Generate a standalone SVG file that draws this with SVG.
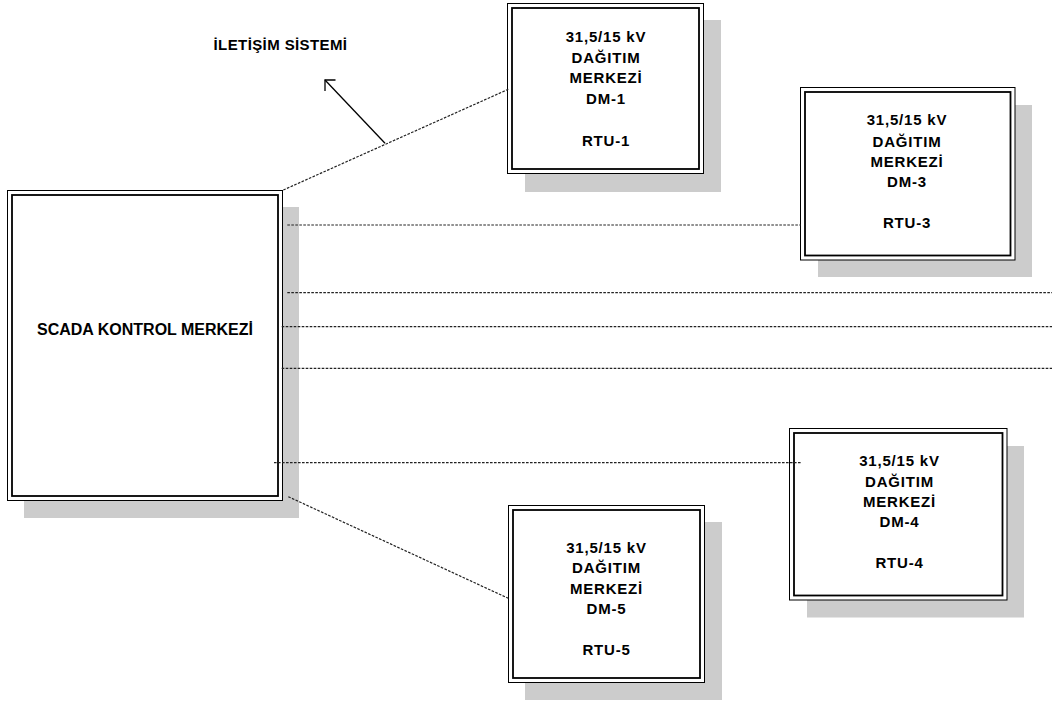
<svg xmlns="http://www.w3.org/2000/svg" width="1052" height="709" viewBox="0 0 1052 709">
<style>
.shadow{fill:#cccccc;stroke:none}
.outer{fill:#ffffff;stroke:#000;stroke-width:1}
.inner{fill:none;stroke:#000;stroke-width:1.8}
.t{font-family:"Liberation Sans",Arial,sans-serif;font-weight:bold;fill:#000;text-anchor:middle}
.dm{font-size:15px;letter-spacing:0.8px}
.dot{fill:none;stroke:#222;stroke-width:1.2;stroke-dasharray:2.6 1.4}
.sol{fill:none;stroke:#000;stroke-width:1.3}
</style>
<rect width="1052" height="709" fill="#ffffff"/>
<g id="scada">
<rect class="shadow" x="24" y="207" width="275" height="311"/>
<rect class="outer" x="7.5" y="190.5" width="275" height="310"/>
<rect class="inner" x="12" y="195" width="266" height="301"/>
<text class="t" x="145" y="335" font-size="16">SCADA KONTROL MERKEZİ</text>
</g>
<g id="dm1">
<rect class="shadow" x="525" y="20" width="196" height="172"/>
<rect class="outer" x="507.5" y="3.5" width="196" height="170"/>
<rect class="inner" x="512" y="8" width="187" height="161"/>
<text class="t dm" x="606" y="41.7">31,5/15 kV</text>
<text class="t dm" x="606" y="62.5">DAĞITIM</text>
<text class="t dm" x="606" y="83.3">MERKEZİ</text>
<text class="t dm" x="606" y="104">DM-1</text>
<text class="t dm" x="606" y="145.7">RTU-1</text>
</g>
<g id="dm3">
<rect class="shadow" x="818" y="105" width="214" height="172"/>
<rect class="outer" x="800.5" y="87.5" width="214.5" height="172.5"/>
<rect class="inner" x="805" y="92" width="205.5" height="163.5"/>
<text class="t dm" x="907" y="125">31,5/15 kV</text>
<text class="t dm" x="907" y="146.7">DAĞITIM</text>
<text class="t dm" x="907" y="167.3">MERKEZİ</text>
<text class="t dm" x="907" y="187.3">DM-3</text>
<text class="t dm" x="907" y="228.3">RTU-3</text>
</g>
<g id="dm4">
<rect class="shadow" x="807" y="446" width="217" height="171.5"/>
<rect class="outer" x="789.5" y="428.5" width="217.5" height="171.5"/>
<rect class="inner" x="794" y="433" width="208.5" height="162.5"/>
<text class="t dm" x="899.5" y="465.7">31,5/15 kV</text>
<text class="t dm" x="899.5" y="486.7">DAĞITIM</text>
<text class="t dm" x="899.5" y="507.3">MERKEZİ</text>
<text class="t dm" x="899.5" y="527.3">DM-4</text>
<text class="t dm" x="899.5" y="568.3">RTU-4</text>
</g>
<g id="dm5">
<rect class="shadow" x="525" y="522" width="197" height="178"/>
<rect class="outer" x="508.5" y="505.5" width="196" height="177"/>
<rect class="inner" x="513" y="510" width="187" height="168"/>
<text class="t dm" x="606.5" y="553.3">31,5/15 kV</text>
<text class="t dm" x="606.5" y="573.3">DAĞITIM</text>
<text class="t dm" x="606.5" y="594">MERKEZİ</text>
<text class="t dm" x="606.5" y="614">DM-5</text>
<text class="t dm" x="606.5" y="655">RTU-5</text>
</g>
<g id="label">
<text class="t" x="280.5" y="50" font-size="15" letter-spacing="0.4">İLETİŞİM SİSTEMİ</text>
</g>
<g id="connectors">
<line class="dot" x1="283.3" y1="190" x2="508.3" y2="89.3"/>
<line class="dot" x1="287.3" y1="225" x2="800.7" y2="225"/>
<line class="dot" x1="287.3" y1="292.7" x2="1052" y2="292.7"/>
<line class="dot" x1="281.7" y1="326.7" x2="1052" y2="326.7"/>
<line class="dot" x1="281.7" y1="368.3" x2="1052" y2="368.3"/>
<line class="dot" x1="274" y1="462.7" x2="801.7" y2="462.7"/>
<line class="dot" x1="288.3" y1="496.7" x2="508.3" y2="598.3"/>
<line class="sol" x1="385" y1="143.3" x2="325" y2="80"/>
<polyline class="sol" points="335.5,80 325,80 325,91"/>
</g>
</svg>
